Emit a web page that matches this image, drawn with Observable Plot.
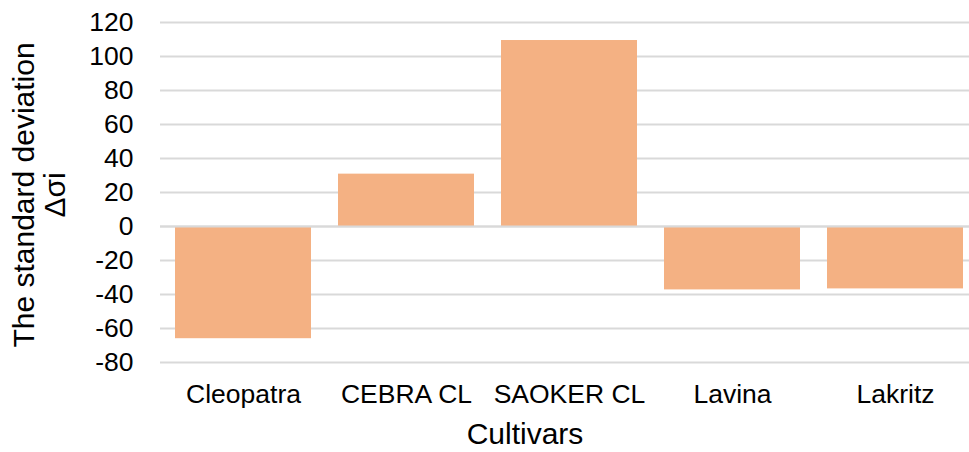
<!DOCTYPE html>
<html><head><meta charset="utf-8">
<script src="https://cdn.jsdelivr.net/npm/d3@7"></script>
<script src="https://cdn.jsdelivr.net/npm/@observablehq/plot@0.6"></script>
<style>body{margin:0;background:#fff;} svg{font-family:"Liberation Sans",Arial,sans-serif;}</style>
</head><body><div id="chart"></div>
<script>
const cultivars = ["Cleopatra", "CEBRA CL", "SAOKER CL", "Lavina", "Lakritz"];
const values = [-66, 30.8, 109.4, -37.3, -36.7];
const yTicks = [-80, -60, -40, -20, 0, 20, 40, 60, 80, 100, 120];
const xTitle = "Cultivars";
const yTitleLines = ["The standard deviation", "Δσi"];

const data = cultivars.map((c, i) => ({cultivar: c, value: values[i]}));
const W = 969, H = 452;
const chart = Plot.plot({
  width: W, height: H,
  marginLeft: 160, marginRight: 0, marginTop: 22, marginBottom: 90,
  style: {fontFamily: '"Liberation Sans", Arial, sans-serif', fontSize: "26.5px", color: "#000", background: "#fff"},
  x: {domain: cultivars, range: [160, 978], paddingInner: 0.167, paddingOuter: 0.084, label: null},
  y: {domain: [-80, 120], label: null},
  marks: [
    Plot.ruleY(yTicks, {stroke: "#d9d9d9", strokeWidth: 2}),
    Plot.barY(data, {x: "cultivar", y: "value", fill: "#F4B183"}),
    Plot.ruleY([0], {stroke: "#d9d9d9", strokeWidth: 2}),
    Plot.axisX({tickSize: 0, tickPadding: 22, label: null, fontSize: 26.5}),
    Plot.axisY({ticks: yTicks, tickSize: 0, tickPadding: 27, label: null, fontSize: 26.5, tickFormat: d => String(d)})
  ]
});
document.getElementById("chart").appendChild(chart);
const svg = d3.select(chart);
svg.append("text")
  .attr("x", 525).attr("y", 444)
  .attr("text-anchor", "middle")
  .attr("font-size", 30)
  .attr("fill", "#000")
  .text(xTitle);
const g = svg.append("g").attr("transform", "rotate(-90)");
const ys = [34, 65];
yTitleLines.forEach((t, i) => {
  g.append("text")
    .attr("x", -195).attr("y", ys[i])
    .attr("text-anchor", "middle")
    .attr("font-size", 30)
    .attr("fill", "#000")
    .text(t);
});
</script>
</body></html>
